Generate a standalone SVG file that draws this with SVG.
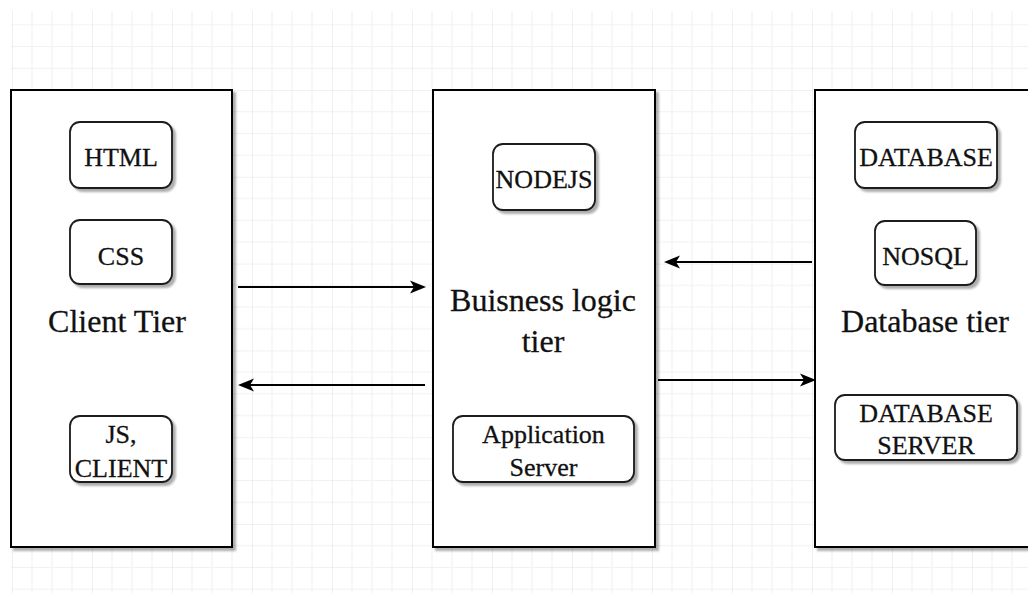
<svg xmlns="http://www.w3.org/2000/svg" width="1028" height="595" viewBox="0 0 1028 595">
  <style>
    .tier { fill: #ffffff; stroke: #000000; stroke-width: 2; filter: url(#shadow); }
    .item { fill: #ffffff; stroke: #1a1a1a; stroke-width: 1.8; filter: url(#shadow); }
    .big { font-family: "Liberation Serif", "Times New Roman", serif; font-size: 32px; fill: #111111; stroke: #111111; stroke-width: 0.3; text-anchor: middle; }
    .lbl { font-family: "Liberation Serif", "Times New Roman", serif; font-size: 26px; fill: #111111; stroke: #111111; stroke-width: 0.3; text-anchor: middle; }
    .link { stroke: #000000; stroke-width: 2.2; fill: none; marker-end: url(#head); }
  </style>
  <defs>
    <filter id="shadow" x="-10%" y="-10%" width="130%" height="130%">
      <feDropShadow dx="3" dy="3" stdDeviation="0.8" flood-color="#000000" flood-opacity="0.32"/>
    </filter>
    <pattern id="grid" patternUnits="userSpaceOnUse" x="12" y="3.2" width="80" height="86.8">
      <g stroke="#f1f1f1" stroke-width="1.2">
        <line x1="20" y1="0" x2="20" y2="86.8"/>
        <line x1="40" y1="0" x2="40" y2="86.8"/>
        <line x1="60" y1="0" x2="60" y2="86.8"/>
        <line x1="0" y1="21.7" x2="80" y2="21.7"/>
        <line x1="0" y1="43.4" x2="80" y2="43.4"/>
        <line x1="0" y1="65.1" x2="80" y2="65.1"/>
      </g>
      <g stroke="#e4e4e4" stroke-width="1.2">
        <line x1="0" y1="0" x2="0" y2="86.8"/>
        <line x1="0" y1="0" x2="80" y2="0"/>
      </g>
    </pattern>
    <marker id="head" markerUnits="userSpaceOnUse" markerWidth="18" markerHeight="16" refX="4" refY="8" orient="auto">
      <path d="M0,1.5 L16,8 L0,14.5 L4,8 Z" fill="#000000"/>
    </marker>
  </defs>

  <rect x="0" y="0" width="1028" height="595" fill="#ffffff"/>
  <rect x="11" y="11" width="1017" height="582" fill="url(#grid)"/>

  <!-- client tier -->
  <g id="client-tier">
    <rect class="tier" x="11" y="90" width="221" height="457"/>
    <text class="big" x="117" y="332">Client Tier</text>
  </g>
  <g id="html">
    <rect class="item" x="70" y="122" width="102" height="66" rx="10"/>
    <text class="lbl" x="121" y="166">HTML</text>
  </g>
  <g id="css">
    <rect class="item" x="70" y="220" width="102" height="64" rx="10"/>
    <text class="lbl" x="121" y="265">CSS</text>
  </g>
  <g id="js-client">
    <rect class="item" x="70" y="416" width="102" height="66" rx="10"/>
    <text class="lbl" x="121" y="443">JS,</text>
    <text class="lbl" x="121" y="477">CLIENT</text>
  </g>

  <!-- business logic tier -->
  <g id="logic-tier">
    <rect class="tier" x="433" y="90" width="222" height="457"/>
    <text class="big" x="543" y="311">Buisness logic</text>
    <text class="big" x="543" y="352">tier</text>
  </g>
  <g id="nodejs">
    <rect class="item" x="493" y="144" width="102" height="66" rx="10"/>
    <text class="lbl" x="544" y="188">NODEJS</text>
  </g>
  <g id="app-server">
    <rect class="item" x="453" y="416" width="181" height="66" rx="10"/>
    <text class="lbl" x="543.5" y="443">Application</text>
    <text class="lbl" x="543.5" y="476">Server</text>
  </g>

  <!-- database tier -->
  <g id="database-tier">
    <rect class="tier" x="815" y="90" width="230" height="457"/>
    <text class="big" x="925" y="332">Database tier</text>
  </g>
  <g id="database">
    <rect class="item" x="855" y="122" width="142" height="66" rx="10"/>
    <text class="lbl" x="926" y="166">DATABASE</text>
  </g>
  <g id="nosql">
    <rect class="item" x="875" y="221" width="101" height="64" rx="10"/>
    <text class="lbl" x="925.5" y="265">NOSQL</text>
  </g>
  <g id="db-server">
    <rect class="item" x="835" y="395" width="182" height="65" rx="10"/>
    <text class="lbl" x="926" y="422">DATABASE</text>
    <text class="lbl" x="926" y="454">SERVER</text>
  </g>

  <!-- connectors -->
  <g id="connectors">
    <line class="link" x1="238" y1="287" x2="414" y2="287"/>
    <line class="link" x1="425" y1="385" x2="250" y2="385"/>
    <line class="link" x1="812" y1="262" x2="676" y2="262"/>
    <line class="link" x1="658" y1="380" x2="804" y2="380"/>
  </g>
</svg>
